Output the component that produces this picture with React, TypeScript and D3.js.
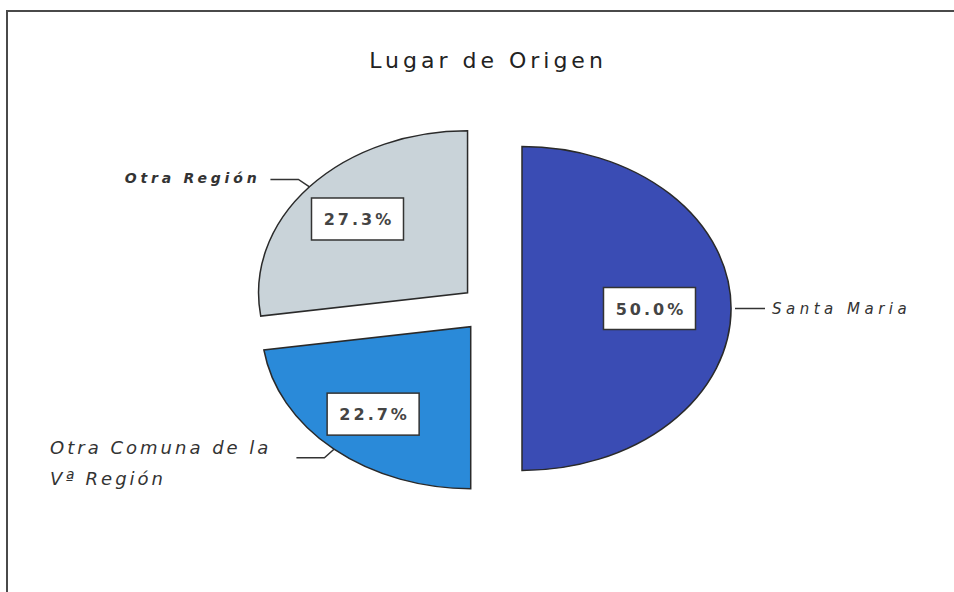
import React, { useEffect, useRef } from "react";
import * as d3 from "d3";

// chart data
const title = "Lugar de Origen";
const categories = ["Santa Maria", "Otra Comuna de la Vª Región", "Otra Región"];
const labelLines = [["Santa Maria"], ["Otra Comuna de la", "Vª Región"], ["Otra Región"]];
const values = [50.0, 22.7, 27.3];
const colors = ["#3a4cb4", "#2a8ad9", "#c9d3d9"];

const FONT = "'DejaVu Sans', sans-serif";

export default function App() {
  const ref = useRef<SVGSVGElement>(null);

  useEffect(() => {
    const width = 954, height = 592;
    const svg = d3.select(ref.current);
    svg.selectAll("*").remove();

    svg.append("rect").attr("width", width).attr("height", height).attr("fill", "#fff");

    // frame (left + top, open to the right and bottom)
    svg.append("path")
      .attr("d", `M7,${height} V11 H${width}`)
      .attr("fill", "none")
      .attr("stroke", "#4a4a4a")
      .attr("stroke-width", 2);

    svg.append("text")
      .attr("x", 488).attr("y", 68)
      .attr("text-anchor", "middle")
      .style("font-family", FONT)
      .style("font-size", "22px")
      .style("letter-spacing", "4px")
      .attr("fill", "#222")
      .text(title);

    // pie geometry: the picture is squashed vertically, so draw an ellipse
    const cx = 491, cy = 308.5, rx = 209, ry = 162;
    const k = ry / rx;
    const explode = 31;
    const total = d3.sum(values);

    const pie = d3.pie<number>().sort(null).value(d => d);
    const arcs = pie(values);
    const arc = d3.arc<d3.PieArcDatum<number>>().innerRadius(0).outerRadius(rx);

    // point at angle a, radius r, around (ox, oy) in page coords
    const pt = (ox: number, oy: number, a: number, r: number): [number, number] =>
      [ox + Math.sin(a) * r, oy - Math.cos(a) * r * k];

    arcs.forEach((d, i) => {
      const mid = (d.startAngle + d.endAngle) / 2;
      const [ox, oy] = pt(cx, cy, mid, explode);

      const g = svg.append("g").attr("transform", `translate(${ox},${oy})`);
      g.append("path")
        .attr("transform", `scale(1,${k})`)
        .attr("d", arc(d))
        .attr("fill", colors[i])
        .attr("stroke", "#2a2a2a")
        .attr("stroke-width", 1.5)
        .attr("vector-effect", "non-scaling-stroke");

      // value box, a bit further out for the narrower slices
      const share = values[i] / total;
      const [bx, by] = pt(ox, oy, mid, rx * (0.8 - 0.38 * share));
      svg.append("rect")
        .attr("x", bx - 46).attr("y", by - 21)
        .attr("width", 92).attr("height", 42)
        .attr("fill", "#fff")
        .attr("stroke", "#333")
        .attr("stroke-width", 1.5);
      svg.append("text")
        .attr("x", bx + 1.5).attr("y", by + 6)
        .attr("text-anchor", "middle")
        .style("font-family", FONT)
        .style("font-size", "16px")
        .style("font-weight", "bold")
        .style("letter-spacing", "3px")
        .attr("fill", "#444")
        .text(d3.format(".1f")(values[i]) + "%");

      // leader line: from rim, small elbow, then horizontal
      const right = Math.sin(mid) > 0;
      const p = pt(ox, oy, mid, right ? rx + 4 : rx);
      const e = right ? p : pt(ox, oy, mid, rx * 1.07);
      const hx = e[0] + (right ? 30 : -28);
      svg.append("path")
        .attr("d", d3.line()([p, e, [hx, e[1]]]))
        .attr("fill", "none")
        .attr("stroke", "#333")
        .attr("stroke-width", 1.5);

      // category label
      const multi = labelLines[i].length > 1;
      const label = svg.append("text")
        .attr("aria-label", categories[i])
        .style("font-family", FONT)
        .style("font-style", "italic")
        .attr("fill", "#333");
      if (multi) {
        label.style("font-size", "18px").style("letter-spacing", "3px");
      } else if (right) {
        label.style("font-size", "15px").style("letter-spacing", "4.5px");
      } else {
        label.style("font-size", "14px").style("font-weight", "bold").style("letter-spacing", "3.8px");
      }
      const spans = label.selectAll("tspan")
        .data(labelLines[i])
        .enter().append("tspan")
        .attr("dy", (_, j) => (j === 0 ? 0 : 31))
        .text(t => t);

      if (right) {
        label.attr("x", hx + 7).attr("y", e[1] + 5);
        spans.attr("x", hx + 7);
      } else if (multi) {
        // left-aligned block, first line ending just before the leader
        const first = (spans.nodes()[0] as SVGTextContentElement).getComputedTextLength();
        const lx = hx - 25 - first;
        label.attr("y", e[1] - 4);
        spans.attr("x", lx);
      } else {
        label.attr("x", hx - 10).attr("y", e[1] + 4).attr("text-anchor", "end");
        spans.attr("x", hx - 10);
      }
    });
  }, []);

  return (
    <svg
      ref={ref}
      width={954}
      height={592}
      style={{ position: "absolute", left: 0, top: 0, display: "block" }}
    />
  );
}
